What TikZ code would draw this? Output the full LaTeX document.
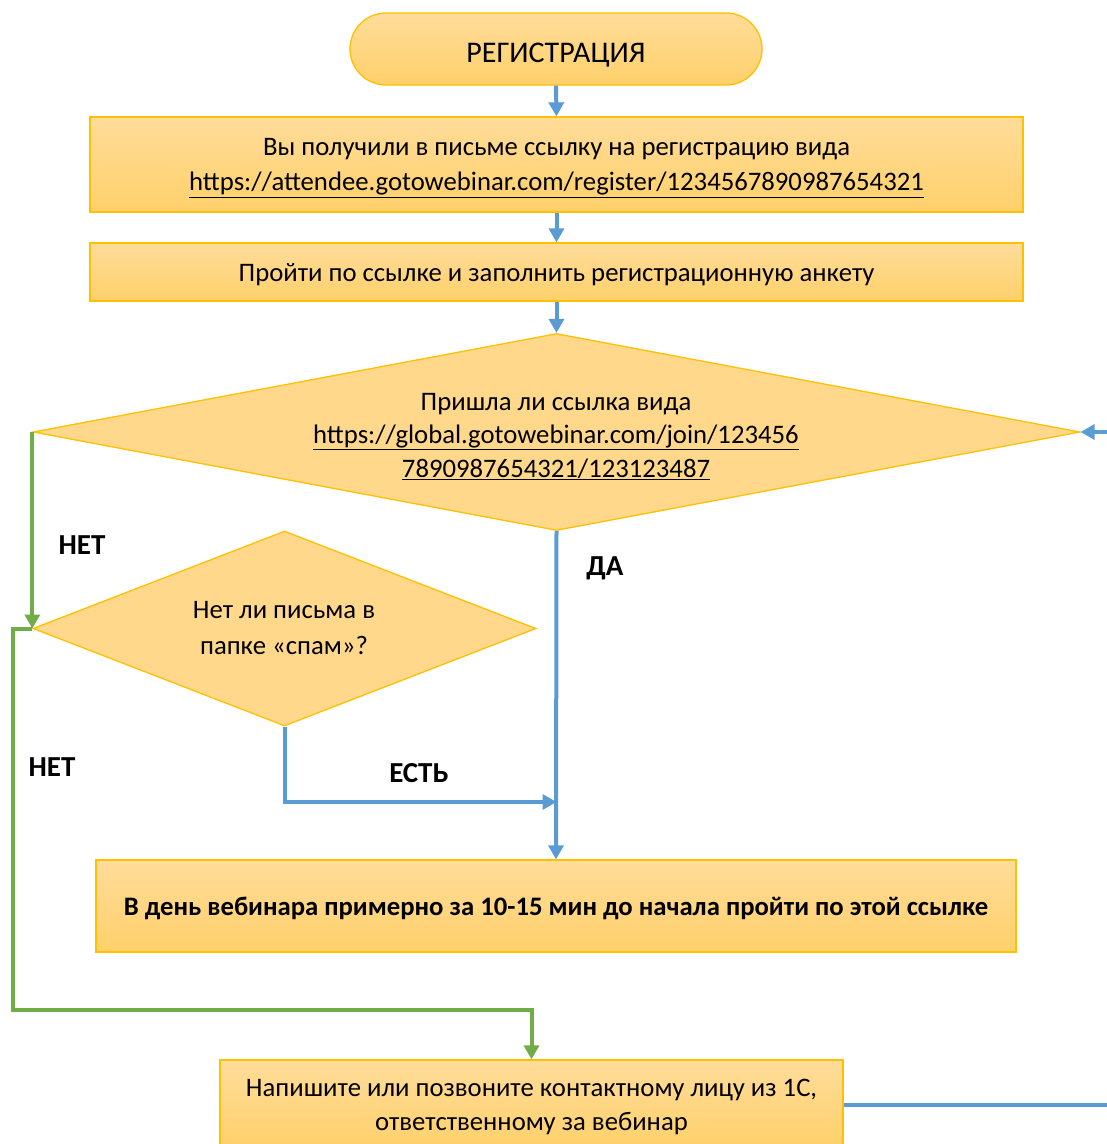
\documentclass[tikz,border=0pt]{standalone}
\usepackage{fontspec}
\setmainfont{Carlito}
\usetikzlibrary{shapes.geometric,arrows.meta}
\definecolor{boxfillA}{HTML}{FFDC9A}
\definecolor{boxfillB}{HTML}{FFD06A}
\definecolor{boxline}{HTML}{FFC000}
\definecolor{flowblue}{HTML}{5B9BD5}
\definecolor{flowgreen}{HTML}{70AD47}
\tikzset{
  x=1pt,y=-1pt,
  every node/.style={font=\fontsize{26.7}{35}\selectfont},
  procbox/.style={draw=boxline,line width=1.3pt,top color=boxfillA,bottom color=boxfillB,minimum height=#1,inner sep=0pt,align=center},
  oneline/.style={text height=26pt,text depth=7pt},
  termbox/.style={draw=boxline,line width=1.3pt,top color=boxfillA,bottom color=boxfillB,rounded corners=36pt,minimum width=412pt,minimum height=72pt,inner sep=0pt},
  dia/.style={diamond,draw=boxline,line width=1.3pt,fill=boxfillA!70!boxfillB,inner sep=0pt},
  txt/.style={align=center,inner sep=0pt},
  lbl/.style={font=\fontsize{29}{32}\selectfont\bfseries,inner sep=0pt},
  bluearrow/.style={draw=flowblue,line width=4pt,-{Triangle[length=14pt,width=15pt]}},
  greenarrow/.style={draw=flowgreen,line width=4pt,-{Triangle[length=14pt,width=15pt]}},
}
\begin{document}
\begin{tikzpicture}
\useasboundingbox (0,0) rectangle (1107,1144);
\clip (0,0) rectangle (1107,1144);
% nodes
\node[termbox,text height=30pt,text depth=2.6pt,font=\fontsize{30}{34}\selectfont] (start) at (556,49) {РЕГИСТРАЦИЯ};
\node[procbox=95pt,minimum width=933pt] (b1) at (556.5,164.5) {};
\node[txt,font=\fontsize{26.7}{35}\selectfont] (b1t) at (556.5,168) {Вы получили в письме ссылку на регистрацию вида\\\underline{https://attendee.gotowebinar.com/register/1234567890987654321}};
\node[procbox=58pt,minimum width=933pt,oneline] (b2) at (556.5,272) {Пройти по ссылке и заполнить регистрационную анкету};
\node[dia,minimum width=1047pt,minimum height=197pt] (d1) at (556.5,432) {};
\node[txt,font=\fontsize{26.7}{33.5}\selectfont] (d1t) at (556,436.5) {Пришла ли ссылка вида\\\underline{https://global.gotowebinar.com/join/123456}\\\underline{7890987654321/123123487}};
\node[dia,minimum width=503pt,minimum height=195pt] (d2) at (284.5,628.5) {};
\node[txt,font=\fontsize{26.7}{36}\selectfont] (d2t) at (284,628) {Нет ли письма в\\папке «спам»?};
\node[procbox=92pt,minimum width=920pt,oneline,font=\fontsize{26.7}{34}\selectfont\bfseries] (b3) at (556,906) {В день вебинара примерно за 10-15 мин до начала пройти по этой ссылке};
\node[procbox=90pt,minimum width=623pt] (b4) at (531.5,1105) {};
\node[txt,font=\fontsize{26.7}{34}\selectfont] (b4t) at (531.5,1107) {Напишите или позвоните контактному лицу из 1С,\\ответственному за вебинар};
\coordinate (join) at (556.5,802);
% labels
\node[lbl] (l1) at (82,545) {НЕТ};
\node[lbl] (l2) at (605,568) {ДА};
\node[lbl] (l3) at (419,773) {ЕСТЬ};
\node[lbl] (l4) at (52,767) {НЕТ};
% connectors
\draw[bluearrow] (start.south) -- (b1.north);
\draw[bluearrow] (b1.south) -- (b2.north);
\draw[bluearrow] (b2.south) -- (d1.north);
\draw[greenarrow] (d1.west) -- (d2.west);
\draw[bluearrow] (d1.south) -- (b3.north);
\draw[bluearrow] (d2.south) |- (join);
\draw[greenarrow] (d2.west) -- (13,628.5) |- (300,1010) -| (b4.north);
\draw[bluearrow] (b4.east) -- (1140,1105) |- (d1.east);
\end{tikzpicture}
\end{document}
